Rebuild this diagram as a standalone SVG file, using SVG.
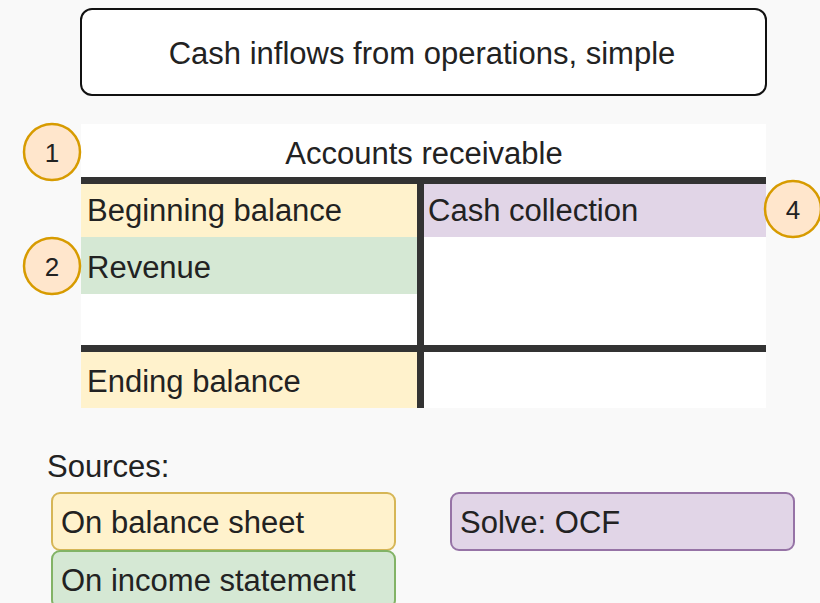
<svg xmlns="http://www.w3.org/2000/svg" width="820" height="603" viewBox="0 0 820 603">
<style>
text{font-family:"Liberation Sans",Arial,sans-serif;fill:#222}
.big{font-size:31px}
.src{font-size:31px}
.num{font-size:26px;text-anchor:middle}
.bar{fill:#333}
.badge{fill:#ffe6cc;stroke:#d79b00;stroke-width:2.5}
.yel{fill:#fff2cc}
.grn{fill:#d5e8d4}
.pur{fill:#e1d5e7}
</style>
<rect width="820" height="603" fill="#f9f9f9"/>
<g id="title">
<rect x="81" y="9" width="685" height="86" rx="11" fill="#fff" stroke="#111" stroke-width="2"/>
<text class="big" x="422" y="64" text-anchor="middle">Cash inflows from operations, simple</text>
</g>
<g id="t-account">
<rect x="81" y="124" width="685" height="284" fill="#fff"/>
<text class="big" x="424" y="164" text-anchor="middle">Accounts receivable</text>
<rect class="yel" x="81" y="184" width="336" height="53"/>
<rect class="grn" x="81" y="237" width="336" height="57"/>
<rect class="pur" x="424" y="184" width="342" height="53"/>
<rect class="yel" x="81" y="352" width="336" height="56"/>
<rect class="bar" x="81" y="177" width="685" height="7"/>
<rect class="bar" x="81" y="345" width="685" height="7"/>
<rect class="bar" x="417" y="177" width="7" height="231"/>
</g>
<g id="beginning-balance"><text class="big" x="87" y="221">Beginning balance</text></g>
<g id="revenue"><text class="big" x="87" y="278">Revenue</text></g>
<g id="cash-collection"><text class="big" x="428" y="221">Cash collection</text></g>
<g id="ending-balance"><text class="big" x="87" y="392">Ending balance</text></g>
<g id="badge-1"><circle class="badge" cx="52" cy="152" r="28"/><text class="num" x="52" y="162">1</text></g>
<g id="badge-2"><circle class="badge" cx="52" cy="266" r="28"/><text class="num" x="52" y="276">2</text></g>
<g id="badge-4"><circle class="badge" cx="793" cy="209" r="28"/><text class="num" x="793" y="219">4</text></g>
<g id="sources-label"><text class="src" x="47" y="477">Sources:</text></g>
<g id="legend-balance">
<rect x="52" y="493" width="343" height="57" rx="8" fill="#fff2cc" stroke="#d6b656" stroke-width="2"/>
<text class="src" x="61" y="533">On balance sheet</text>
</g>
<g id="legend-income">
<rect x="52" y="551" width="343" height="57" rx="8" fill="#d5e8d4" stroke="#82b366" stroke-width="2"/>
<text class="src" x="61" y="591">On income statement</text>
</g>
<g id="legend-solve">
<rect x="451" y="493" width="343" height="57" rx="8" fill="#e1d5e7" stroke="#9673a6" stroke-width="2"/>
<text class="src" x="460" y="533">Solve: OCF</text>
</g>
<g id="connectors"/>
</svg>
